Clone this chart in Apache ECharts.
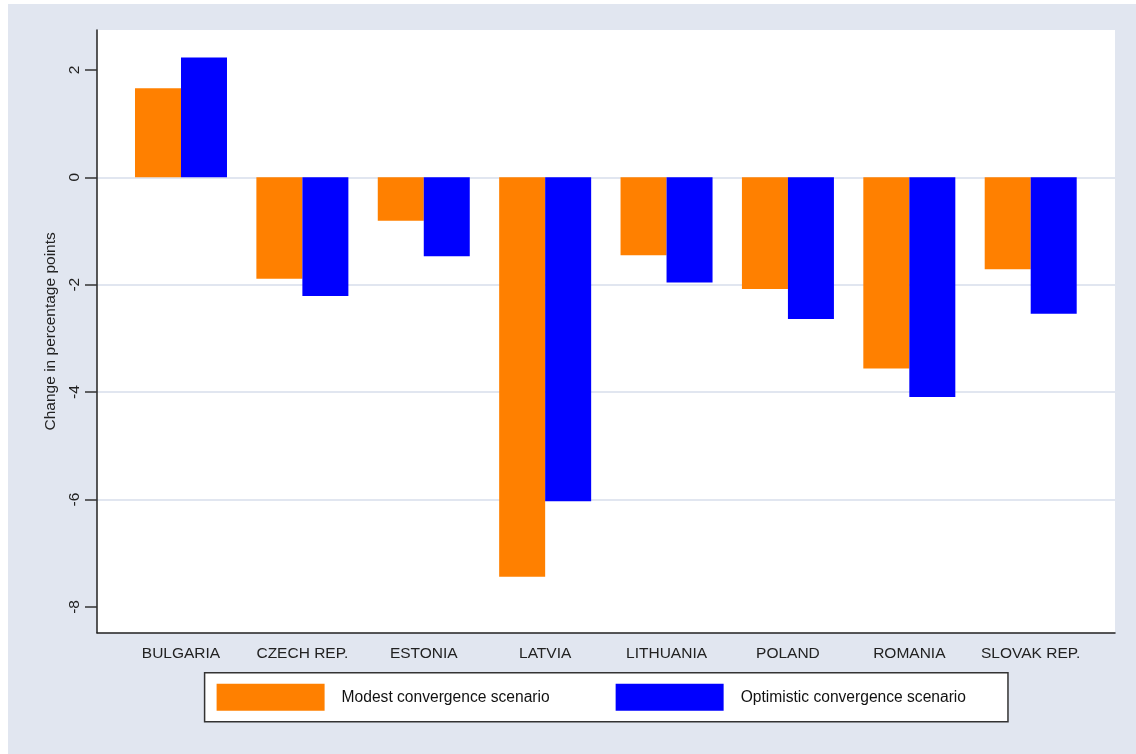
<!DOCTYPE html>
<html>
<head>
<meta charset="utf-8">
<script src="https://cdn.jsdelivr.net/npm/echarts@6/dist/echarts.min.js"></script>
<style>
html,body{margin:0;padding:0;background:#fff;}
#chart{width:1136px;height:754px;}
</style>
</head>
<body>
<div id="chart"></div>
<script>
var categories = ['BULGARIA', 'CZECH REP.', 'ESTONIA', 'LATVIA', 'LITHUANIA', 'POLAND', 'ROMANIA', 'SLOVAK REP.'];
var modest = [1.66, -1.89, -0.81, -7.44, -1.45, -2.08, -3.56, -1.71];
var optimistic = [2.23, -2.21, -1.47, -6.03, -1.96, -2.64, -4.09, -2.54];
var yTicks = [-8, -6, -4, -2, 0, 2];
var seriesNames = ['Modest convergence scenario', 'Optimistic convergence scenario'];
var yTitle = 'Change in percentage points';

var FONT = '"Liberation Sans", Arial, Helvetica, sans-serif';
var BG = '#e1e6f0';
var YMIN = -8.48, YMAX = 2.743;

var chart = echarts.init(document.getElementById('chart'), null, {renderer: 'canvas'});
chart.setOption({
  backgroundColor: '#ffffff',
  animation: false,
  textStyle: {fontFamily: FONT},
  graphic: [{
    type: 'rect', left: 8, top: 4, z: -10,
    shape: {width: 1128, height: 750},
    style: {fill: BG}
  }],
  grid: [
    {left: 97, right: 21, top: 30, bottom: 121.3, show: true, backgroundColor: '#ffffff', borderWidth: 0},
    {left: 120.3, right: 44.6, top: 30, bottom: 121.3}
  ],
  legend: {
    left: 204.6, top: 672.7,
    orient: 'horizontal',
    itemWidth: 108, itemHeight: 27, itemGap: 66,
    padding: [11, 42, 11, 12],
    backgroundColor: '#ffffff',
    borderColor: '#333333', borderWidth: 1.5, borderRadius: 0,
    icon: 'rect',
    textStyle: {fontFamily: FONT, fontSize: 15.6, color: '#111111', padding: [0, 0, 0, 12]},
    data: seriesNames
  },
  xAxis: [
    {
      type: 'value', gridIndex: 0, min: 0, max: 1,
      axisLine: {show: true, onZero: false, lineStyle: {color: '#222222', width: 1.5}},
      axisTick: {show: false}, axisLabel: {show: false}, splitLine: {show: false}
    },
    {
      type: 'category', gridIndex: 1, data: categories,
      axisLine: {show: false, onZero: false},
      axisTick: {show: false},
      axisLabel: {interval: 0, fontSize: 15.5, color: '#222222', margin: 13, fontFamily: FONT},
      splitLine: {show: false}
    }
  ],
  yAxis: [
    {
      type: 'value', gridIndex: 0, min: YMIN, max: YMAX,
      name: yTitle, nameLocation: 'middle', nameGap: 32, nameRotate: 90,
      nameTextStyle: {fontSize: 15.5, color: '#222222', fontFamily: FONT},
      axisLine: {show: true, onZero: false, lineStyle: {color: '#222222', width: 1.5}},
      axisTick: {show: true, length: 12, customValues: yTicks, lineStyle: {color: '#333333', width: 1.5}},
      axisLabel: {rotate: 90, margin: 14, fontSize: 15.5, color: '#222222', customValues: yTicks, fontFamily: FONT},
      splitLine: {show: true, showMinLine: false, showMaxLine: false, lineStyle: {color: BG, width: 2}}
    },
    {type: 'value', gridIndex: 1, min: YMIN, max: YMAX, show: false, splitLine: {show: false}}
  ],
  series: [
    {
      name: seriesNames[0], type: 'bar', xAxisIndex: 1, yAxisIndex: 1,
      data: modest, barWidth: 46, barGap: '0%',
      itemStyle: {color: '#ff8000'}
    },
    {
      name: seriesNames[1], type: 'bar', xAxisIndex: 1, yAxisIndex: 1,
      data: optimistic, barWidth: 46, barGap: '0%',
      itemStyle: {color: '#0000ff'}
    }
  ]
});
</script>
</body>
</html>
